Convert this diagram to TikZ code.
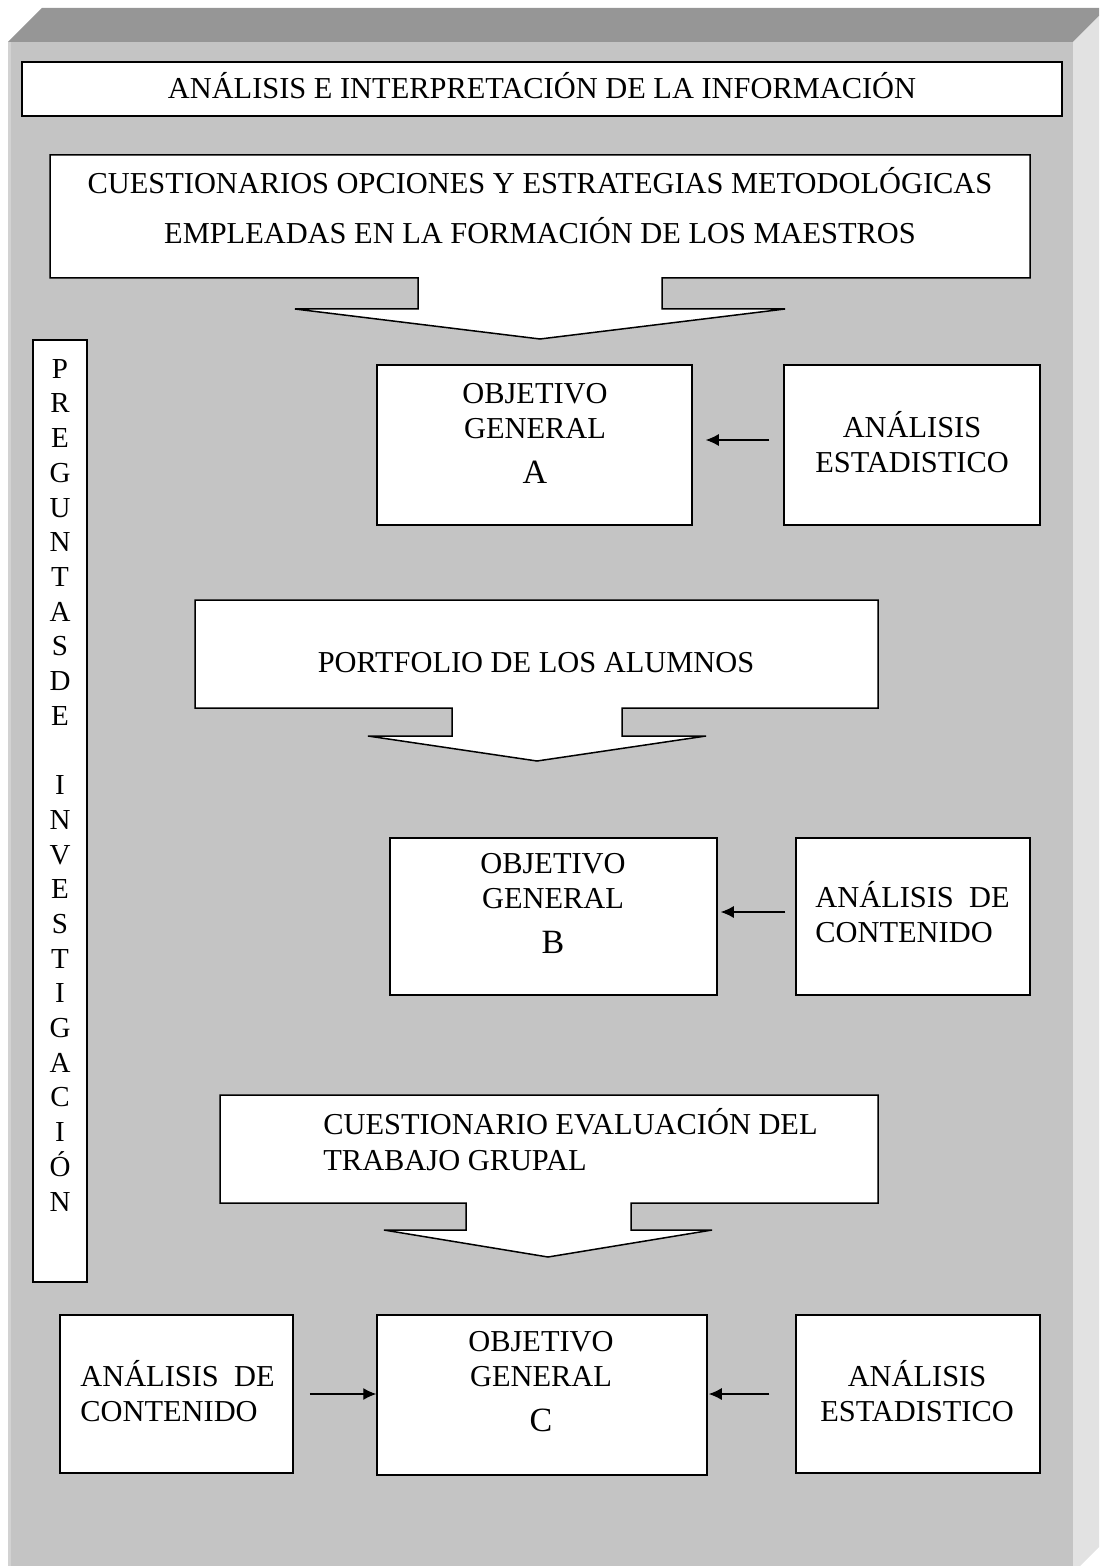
\documentclass[tikz,border=0pt]{standalone}
\usepackage{fontspec}
\setmainfont{Liberation Serif}
\usetikzlibrary{fit}
\usetikzlibrary{arrows.meta}
\definecolor{facegray}{RGB}{196,196,196}
\definecolor{topgray}{RGB}{150,150,150}
\definecolor{sidegray}{RGB}{226,226,226}
\tikzset{box/.style={draw, fill=white, line width=0.75pt, inner sep=0pt}}
\tikzset{callout/.style={draw, fill=white, line width=0.75pt, line join=miter}}
\tikzset{txt/.style={inner sep=0pt, align=center, anchor=base, font=\fontsize{15.2}{17.5}\selectfont}}
\tikzset{ltxt/.style={txt, align=left, anchor=base west}}
\tikzset{conn/.style={-{Latex[length=6.5pt,width=6pt]}, line width=0.6pt}}
\def\bigletter#1{{\fontsize{17}{17.5}\selectfont #1}}

\begin{document}
\begin{tikzpicture}[x=0.5pt, y=-0.5pt]
\useasboundingbox (0,0) rectangle (1099,1566);
\fill[facegray] (8,42) rectangle (1073,1566);
\fill[topgray] (8,42) -- (42,8) -- (1099,8) -- (1099,16) -- (1073,42) -- cycle;
\fill[sidegray] (1073,42) -- (1099,16) -- (1099,1547) -- (1080,1566) -- (1073,1566) -- cycle;
\draw[gray!35, line width=1.5pt] (9.5,42) -- (9.5,1566);

\node[box, fit={(22,62) (1062,116)}] (title) {};
\node[txt] (titletxt) at (542,99) {ANÁLISIS E INTERPRETACIÓN DE LA INFORMACIÓN};

\draw[callout] (50,155) -- (1030,155) -- (1030,278) -- (662,278) -- (662,309) -- (785,309)
  -- (540,339) -- (295,309) -- (418,309) -- (418,278) -- (50,278) -- cycle;
\node[txt, font=\fontsize{15.2}{25}\selectfont] (cuesttxt) at (540,244)
  {CUESTIONARIOS OPCIONES Y ESTRATEGIAS METODOLÓGICAS\\EMPLEADAS EN LA FORMACIÓN DE LOS MAESTROS};

\node[box, fit={(33,340) (87,1282)}] (preg) {};
\node[txt, font=\fontsize{14.5}{17.35}\selectfont] (pregtxt) at (60,1211)
  {P\\R\\E\\G\\U\\N\\T\\A\\S\\D\\E\\~\\I\\N\\V\\E\\S\\T\\I\\G\\A\\C\\I\\Ó\\N};

\node[box, fit={(377,365) (692,525)}] (objA) {};
\node[txt] (objAtxt) at (535,484) {OBJETIVO\\GENERAL\\[5pt]\bigletter{A}};
\node[box, fit={(784,365) (1040,525)}] (estA) {};
\node[txt] (estAtxt) at (912,473) {ANÁLISIS\\ESTADISTICO};

\draw[callout] (195,600) -- (878,600) -- (878,708) -- (622,708) -- (622,736) -- (706,736)
  -- (537,761) -- (368,736) -- (452,736) -- (452,708) -- (195,708) -- cycle;
\node[txt] (portftxt) at (536,672) {PORTFOLIO DE LOS ALUMNOS};

\node[box, fit={(390,838) (717,995)}] (objB) {};
\node[txt] (objBtxt) at (553,953) {OBJETIVO\\GENERAL\\[5pt]\bigletter{B}};
\node[box, fit={(796,838) (1030,995)}] (contB) {};
\node[ltxt] (contBtxt) at (815,942) {ANÁLISIS\ \ DE\\CONTENIDO};

\draw[callout] (220,1095) -- (878,1095) -- (878,1203) -- (631,1203) -- (631,1230) -- (712,1230)
  -- (548,1257) -- (384,1230) -- (466,1230) -- (466,1203) -- (220,1203) -- cycle;
\node[ltxt, font=\fontsize{15.2}{18}\selectfont] (evaltxt) at (323,1170) {CUESTIONARIO EVALUACIÓN DEL\\TRABAJO GRUPAL};

\node[box, fit={(60,1315) (293,1473)}] (contC) {};
\node[ltxt] (contCtxt) at (80,1421) {ANÁLISIS\ \ DE\\CONTENIDO};
\node[box, fit={(377,1315) (707,1475)}] (objC) {};
\node[txt] (objCtxt) at (541,1431) {OBJETIVO\\GENERAL\\[5pt]\bigletter{C}};
\node[box, fit={(796,1315) (1040,1473)}] (estC) {};
\node[txt] (estCtxt) at (917,1421) {ANÁLISIS\\ESTADISTICO};

\draw[conn, shorten <=7pt, shorten >=6.5pt] ([yshift=2.5pt]estA.west) -- ([yshift=2.5pt]estA.west -| objA.east);
\draw[conn, shorten <=5pt, shorten >=1.5pt] ([yshift=2.25pt]contB.west) -- ([yshift=2.25pt]contB.west -| objB.east);
\draw[conn, shorten <=8pt] (contC.east) -- (contC.east -| objC.west);
\draw[conn, shorten <=13pt, shorten >=0.5pt] (estC.west) -- (estC.west -| objC.east);
\end{tikzpicture}
\end{document}
